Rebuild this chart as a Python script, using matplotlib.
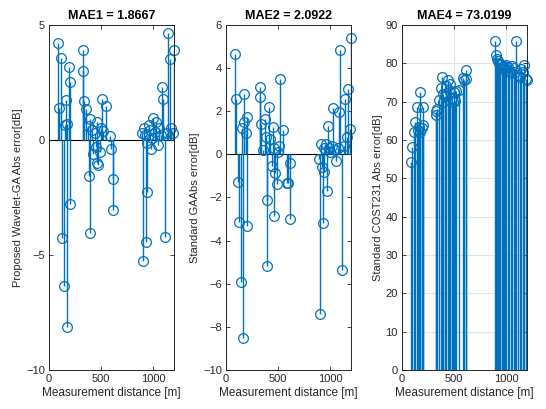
import matplotlib
matplotlib.use("Agg")
import matplotlib.pyplot as plt

plt.rcParams["font.family"] = ["Liberation Sans", "DejaVu Sans"]

# measurement distances [m], shared by all three panels
dist = [90, 100, 112, 122, 144, 151, 166, 170, 176, 192, 199, 202,
        323, 330, 340, 355, 374, 381, 391, 397, 410, 425, 440, 454,
        461, 464, 475, 486, 500, 512, 518, 544, 582, 598, 611, 617,
        890, 899, 910, 925, 931, 938, 944, 957, 967, 976, 990, 1002,
        1015, 1030, 1045, 1060, 1075, 1088, 1098, 1114, 1130, 1145,
        1162, 1174, 1190, 1200]

err_wavelet = [4.23, 1.39, 3.58, -4.28, -6.35, 0.65, 1.74, -8.12, 0.7, 3.19, 2.54, -2.78,
               3.0, 3.91, 1.70, 1.33, 0.6, -1.55, -4.06, 0.9, 0.45, -0.6, 0.3, -0.29,
               0.8, -1.0, -1.1, -0.52, 0.5, 1.78, 0.4, 1.48, 0.19, -0.4, -1.70, -3.04,
               0.3, -5.27, 0.5, 0.2, -4.45, -0.14, -2.27, 0.65, 0.43, -0.4, 0.1, 0.94,
               0.35, 0.8, -0.2, 0.5, 0.2, 2.29, 1.78, -4.2, 0.3, 4.64,
               3.51, 0.5, 0.29, 3.9]

err_ga = [4.65, 2.55, -1.27, -3.12, -5.91, 1.21, -8.53, 1.5, 2.79, 1.0, 1.72, -3.32,
          2.67, 3.11, 1.41, 0.2, 1.64, 0.8, -2.1, -5.18, 2.21, 0.7, -0.54, 1.25,
          0.3, -2.84, -0.88, -1.37, 0.1, 0.4, 3.5, 1.13, -1.34, -1.31, -3.01, -0.41,
          -0.2, -7.40, 0.5, -0.6, -3.2, 0.3, -0.8, 0.48, -1.68, 1.32, 0.3, 0.1,
          0.4, 2.17, 0.2, -0.3, 0.3, 1.98, 4.84, -5.36, 0.4, 2.55,
          0.8, 3.02, 1.16, 5.41]

err_cost = [54.3, 58.3, 62.2, 64.8, 68.5, 62.5, 63.5, 72.4, 62.0, 63.2, 68.7, 64.0,
            67.5, 66.5, 68.0, 70.4, 73.5, 76.5, 72.0, 70.0, 71.5, 74.0, 75.6, 73.0,
            72.6, 74.5, 71.0, 70.0, 72.5, 70.2, 72.8, 73.0, 76.1, 75.7, 78.3, 76.0,
            85.9, 82.2, 81.0, 80.5, 80.0, 79.5, 79.8, 79.0, 78.5, 79.2, 78.8, 79.6,
            79.0, 78.0, 77.5, 79.3, 78.7, 77.8, 85.7, 77.0, 76.5, 78.5,
            77.8, 79.6, 76.0, 75.7]

titles = ["MAE1 = 1.8667", "MAE2 = 2.0922", "MAE4 = 73.0199"]
ylabels = ["Proposed Wavelet-GA Abs error[dB]", "Standard GAAbs error[dB]",
           "Standard COST231 Abs error[dB]"]
ylims = [(-10, 5), (-10, 6), (0, 90)]
yticks = [[-10, -5, 0, 5], list(range(-10, 7, 2)), list(range(0, 91, 10))]

blue = "#0072BD"
dark = "#262626"

fig = plt.figure(figsize=(5.46, 4.09), dpi=100)
lefts = [0.0897, 0.4139, 0.7363]

for i, errs in enumerate([err_wavelet, err_ga, err_cost]):
    ax = fig.add_axes([lefts[i], 0.0954, 0.229, 0.8435])
    markers, stems, base = ax.stem(dist, errs, linefmt="-", markerfmt="o", basefmt=" ")
    stems.set_color(blue)
    stems.set_linewidth(1.0)
    markers.set_markerfacecolor("none")
    markers.set_markeredgecolor(blue)
    markers.set_markersize(7)
    markers.set_markeredgewidth(0.9)
    markers.set_clip_on(False)
    if i < 2:
        ax.axhline(0, color="black", lw=0.8, zorder=1)
    else:
        ax.grid(True, color="#e3e3e3", lw=0.8)
        ax.set_axisbelow(True)
    ax.set_xlim(0, 1200)
    ax.set_ylim(*ylims[i])
    ax.set_xticks([0, 500, 1000])
    ax.set_yticks(yticks[i])
    ax.tick_params(direction="in", length=3, width=0.6, top=True, right=True,
                   labelsize=8, colors=dark, pad=3)
    for s in ax.spines.values():
        s.set_color(dark)
        s.set_linewidth(0.7)
    ax.set_title(titles[i], fontsize=9, fontweight="bold", color="black", pad=4)
    ax.set_xlabel("Measurement distance [m]", fontsize=8.5, color=dark, labelpad=2)
    ax.set_ylabel(ylabels[i], fontsize=8, color=dark, labelpad=2)

fig.savefig("out.png", dpi=100)
